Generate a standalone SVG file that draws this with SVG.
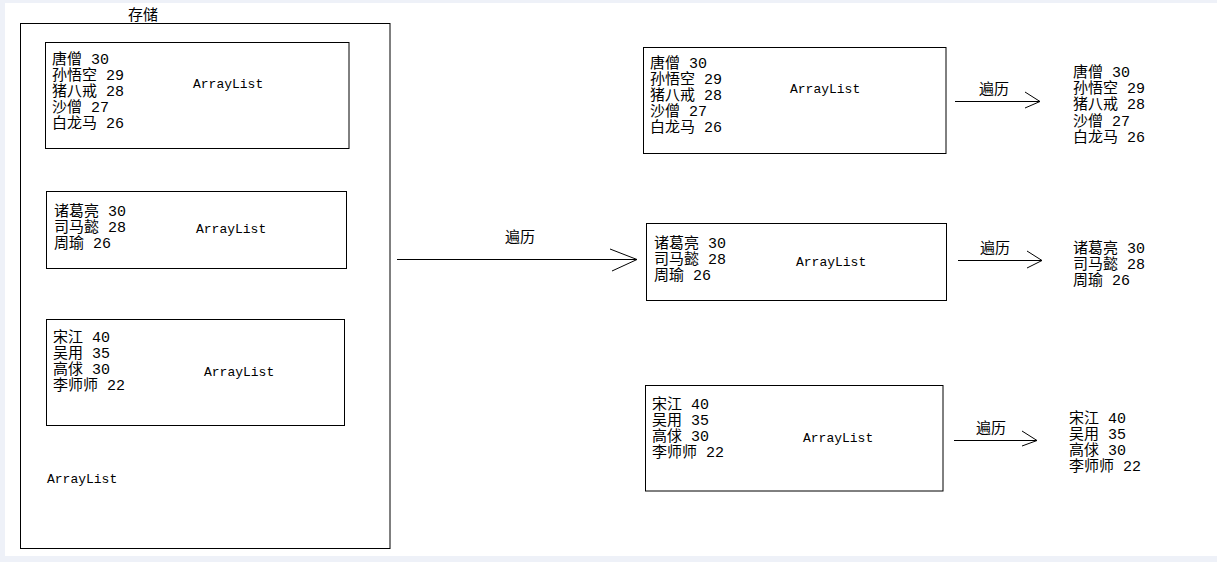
<svg xmlns="http://www.w3.org/2000/svg" width="1217" height="562" viewBox="0 0 1217 562">
<style>
.box{fill:#fff;stroke:#000;stroke-width:1}
.t{font-family:"Liberation Mono","Noto Sans CJK SC",monospace;font-size:15px;fill:#000}
.a{font-family:"Liberation Mono","Noto Sans CJK SC",monospace;font-size:13px;fill:#000}
.l{font-family:"Noto Sans CJK SC",sans-serif;font-size:15px;fill:#000}
.c{fill:none;stroke:#000;stroke-width:1}
</style>
<rect x="0" y="0" width="1217" height="562" fill="#eef1f8"/>
<rect x="5" y="3" width="1212" height="553" fill="#fff"/>
<g id="storage">
<text class="l" x="143" y="20" text-anchor="middle">存储</text>
<rect class="box" x="20.5" y="23.5" width="369.5" height="525"/>
<text class="a" x="47" y="483">ArrayList</text>
</g>
<g id="list1">
<rect class="box" x="45.5" y="42.5" width="303.5" height="106"/>
<text class="t" x="52" y="64">唐僧 30</text>
<text class="t" x="52" y="80">孙悟空 29</text>
<text class="t" x="52" y="96">猪八戒 28</text>
<text class="t" x="52" y="112">沙僧 27</text>
<text class="t" x="52" y="128">白龙马 26</text>
<text class="a" x="193" y="88">ArrayList</text>
</g>
<g id="list2">
<rect class="box" x="46.5" y="191.5" width="300" height="77"/>
<text class="t" x="54" y="216">诸葛亮 30</text>
<text class="t" x="54" y="232">司马懿 28</text>
<text class="t" x="54" y="248">周瑜 26</text>
<text class="a" x="196" y="233">ArrayList</text>
</g>
<g id="list3">
<rect class="box" x="46.5" y="319.5" width="298" height="106"/>
<text class="t" x="53" y="342">宋江 40</text>
<text class="t" x="53" y="358">吴用 35</text>
<text class="t" x="53" y="374">高俅 30</text>
<text class="t" x="53" y="390">李师师 22</text>
<text class="a" x="204" y="376">ArrayList</text>
</g>
<g id="rlist1">
<rect class="box" x="643.5" y="47.5" width="302.5" height="106"/>
<text class="t" x="650" y="68">唐僧 30</text>
<text class="t" x="650" y="84">孙悟空 29</text>
<text class="t" x="650" y="100">猪八戒 28</text>
<text class="t" x="650" y="116">沙僧 27</text>
<text class="t" x="650" y="132">白龙马 26</text>
<text class="a" x="790" y="93">ArrayList</text>
</g>
<g id="rlist2">
<rect class="box" x="646.5" y="223.5" width="300" height="77"/>
<text class="t" x="654" y="248">诸葛亮 30</text>
<text class="t" x="654" y="264">司马懿 28</text>
<text class="t" x="654" y="280">周瑜 26</text>
<text class="a" x="796" y="266">ArrayList</text>
</g>
<g id="rlist3">
<rect class="box" x="645.5" y="385.5" width="297.5" height="105.5"/>
<text class="t" x="652" y="409">宋江 40</text>
<text class="t" x="652" y="425">吴用 35</text>
<text class="t" x="652" y="441">高俅 30</text>
<text class="t" x="652" y="457">李师师 22</text>
<text class="a" x="803" y="442">ArrayList</text>
</g>
<g id="out1">
<text class="t" x="1073" y="77">唐僧 30</text>
<text class="t" x="1073" y="93">孙悟空 29</text>
<text class="t" x="1073" y="109">猪八戒 28</text>
<text class="t" x="1073" y="126">沙僧 27</text>
<text class="t" x="1073" y="142">白龙马 26</text>
</g>
<g id="out2">
<text class="t" x="1073" y="253">诸葛亮 30</text>
<text class="t" x="1073" y="269">司马懿 28</text>
<text class="t" x="1073" y="285">周瑜 26</text>
</g>
<g id="out3">
<text class="t" x="1069" y="423">宋江 40</text>
<text class="t" x="1069" y="439">吴用 35</text>
<text class="t" x="1069" y="455">高俅 30</text>
<text class="t" x="1069" y="471">李师师 22</text>
</g>
<g id="connectors">
<path class="c" d="M397,259.5 H637 M610,249 L637,259.5 L612,271"/>
<text class="l" x="520" y="242" text-anchor="middle">遍历</text>
<path class="c" d="M955,101.5 H1040 M1025,92 L1040,101.5 L1025,108"/>
<text class="l" x="994" y="94" text-anchor="middle">遍历</text>
<path class="c" d="M958,260.5 H1042 M1027,251 L1042,260.5 L1027,268"/>
<text class="l" x="995" y="253" text-anchor="middle">遍历</text>
<path class="c" d="M954,440.5 H1037 M1022,431 L1037,440.5 L1022,446"/>
<text class="l" x="991" y="433" text-anchor="middle">遍历</text>
</g>
</svg>
